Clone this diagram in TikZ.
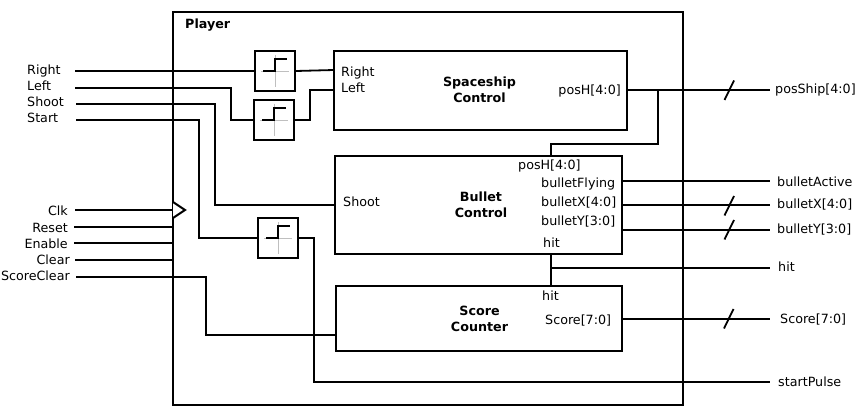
\documentclass[tikz,border=0pt]{standalone}
\usepackage{fontspec}
\setmainfont{DejaVu Sans}
\tikzset{
	wire/.style={line width=1.8pt},
	block/.style={draw, line width=1.8pt, inner sep=0pt},
	blockname/.style={align=center, inner sep=0pt, font=\fontsize{12.7}{15.5}\selectfont\bfseries},
	debounce/.style={draw, line width=1.8pt, minimum size=40pt, inner sep=0pt},
	port/.style={inner sep=0pt, text height=13pt, text depth=3pt, font=\fontsize{12.7}{15}\selectfont},
	title/.style={inner sep=0pt, text height=13pt, text depth=3pt, font=\fontsize{12.7}{15}\selectfont\bfseries},
}
\newcommand{\busmark}[1]{\draw[wire] ($(#1)+(-5,10)$) -- ($(#1)+(4.5,-9.5)$);}
\usetikzlibrary{calc}
\begin{document}
\begin{tikzpicture}[x=1pt, y=-1pt]
	\useasboundingbox (0,0) rectangle (856,406);
	\node[draw, line width=1.8pt, minimum width=510pt, minimum height=393pt, inner sep=0pt] (player) at (428,208.5) {};
	\node[title, anchor=west] (playerName) at (185,24) {Player};
	\node[block, minimum width=293pt, minimum height=79pt] (spaceship) at (480.5,90.5) {};
	\node[block, minimum width=287pt, minimum height=98pt] (bullet) at (478.5,205) {};
	\node[block, minimum width=286pt, minimum height=65pt] (scorecnt) at (479,318.5) {};
	\node[blockname] (spaceshipName) at (479.5,90) {Spaceship\\Control};
	\node[blockname] (bulletName) at (481,205) {Bullet\\Control};
	\node[blockname] (scoreName) at (479.5,319) {Score\\Counter};
	\node[debounce] (debRight) at (275,71) {};
	\node[debounce] (debLeft) at (274,120) {};
	\node[debounce] (debStart) at (278,238) {};
	\foreach \n in {debRight, debLeft, debStart} {
		\draw[black!25, line width=0.8pt] ($(\n)+(-14,0)$) -- ($(\n)+(14,0)$) ($(\n)+(0,-16)$) -- ($(\n)+(0,16)$);
		\draw[wire] ($(\n)+(-12,0)$) -- ($(\n)+(0,0)$) -- ($(\n)+(0,-12)$) -- ($(\n)+(12,-12)$);
	}
	\draw[wire, line width=2pt, fill=white] (173,202) -- (185,210) -- (173,218);
	% inputs
	\foreach \n/\t/\y in {Right/Right/70, Left/Left/86, Shoot/Shoot/102, Start/Start/118}
		\node[port, anchor=west] (lbl\n) at (27,\y) {\t};
	\foreach \n/\t/\x/\y in {Clk/Clk/68/210, Reset/Reset/68/227, Enable/Enable/68/243, Clear/Clear/70/259, ScoreClear/ScoreClear/70/275}
		\node[port, anchor=east] (lbl\n) at (\x,\y) {\t};
	\foreach \n/\x/\y in {Right/75/71, Left/75/88, Shoot/76/104, Start/76/120, Clk/75/210, Reset/74/227, Enable/74/243, Clear/75/260, ScoreClear/76/277}
		\coordinate (in\n) at (\x,\y);
	\draw[wire] (inRight) -- (debRight.west);
	\draw[wire] (debRight.east) -- (334,70);
	\draw[wire] (inLeft) -- (231,88) -- (231,120) -- (debLeft.west);
	\draw[wire] (debLeft.east) -- (310,120) -- (310,90) -- (334,90);
	\draw[wire] (inShoot) -- (215,104) -- (215,205) -- (bullet.west);
	\draw[wire] (inStart) -- (199,120) -- (199,238) -- (debStart.west);
	\draw[wire] (inClk) -- (173,210);
	\draw[wire] (inReset) -- (173,227);
	\draw[wire] (inEnable) -- (173,243);
	\draw[wire] (inClear) -- (173,260);
	\draw[wire] (inScoreClear) -- (206,277) -- (206,335) -- (336,335);
	% block ports
	\node[port, anchor=west] (pRight) at (341,72) {Right};
	\node[port, anchor=west] (pLeft) at (341,88) {Left};
	\node[port, anchor=east] (pPosOut) at (621,90) {posH[4:0]};
	\node[port, anchor=west] (pPosIn) at (518,165) {posH[4:0]};
	\node[port, anchor=west] (pFlying) at (541,182) {bulletFlying};
	\node[port, anchor=west] (pBulletX) at (541,201) {bulletX[4:0]};
	\node[port, anchor=west] (pBulletY) at (541,220) {bulletY[3:0]};
	\node[port, anchor=west] (pHitOut) at (543,242) {hit};
	\node[port, anchor=west] (pShoot) at (343,201) {Shoot};
	\node[port, anchor=west] (pHitIn) at (542,295) {hit};
	\node[port, anchor=west] (pScore) at (545,319) {Score[7:0]};
	% outputs
	\node[port, anchor=west] (posShip) at (775,89) {posShip[4:0]};
	\node[port, anchor=west] (bulletActive) at (777,181) {bulletActive};
	\node[port, anchor=west] (bulletXo) at (777,203) {bulletX[4:0]};
	\node[port, anchor=west] (bulletYo) at (777,228) {bulletY[3:0]};
	\node[port, anchor=west] (hito) at (778,266) {hit};
	\node[port, anchor=west] (scoreo) at (780,318) {Score[7:0]};
	\node[port, anchor=west] (startPulse) at (778,381) {startPulse};
	\foreach \n/\y in {Pos/90, Active/181, X/205, Y/230, Hit/268, Score/319, Pulse/382}
		\coordinate (out\n) at (770,\y);
	\draw[wire] (627,90) -- (outPos);
	\draw[wire] (658,90) -- (658,144) -- (551,144) -- (551,156);
	\draw[wire] (622,181) -- (outActive);
	\draw[wire] (622,205) -- (outX);
	\draw[wire] (622,230) -- (outY);
	\draw[wire] (551,254) -- (551,286);
	\draw[wire] (552,268) -- (outHit);
	\draw[wire] (622,319) -- (outScore);
	\draw[wire] (debStart.east) -- (314,238) -- (314,382) -- (outPulse);
	\busmark{729.5,90}
	\busmark{729.5,205.5}
	\busmark{729.5,229.5}
	\busmark{729,318.5}
\end{tikzpicture}
\end{document}
